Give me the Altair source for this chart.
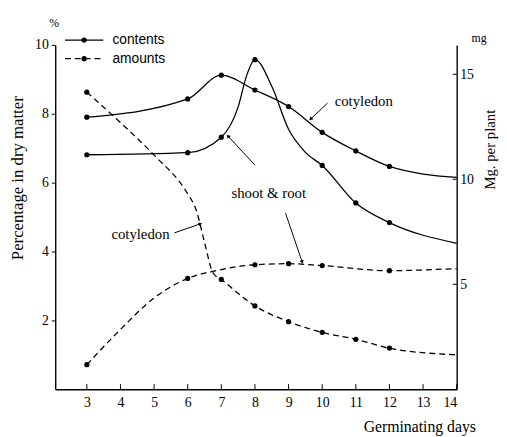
import altair as alt
import pandas as pd

# ---------------- data ----------------
# contents (percentage in dry matter, left axis) - solid lines
cot_c_days = [3, 6, 7, 8, 9, 10, 11, 12, 14]
cot_c_pct = [7.9, 8.43, 9.12, 8.69, 8.21, 7.46, 6.92, 6.47, 6.15]
cot_c_mark = [1, 1, 1, 1, 1, 1, 1, 1, 0]

sr_c_days = [3, 6, 7, 7.5, 7.75, 8, 8.5, 9, 9.5, 10, 11, 12, 14]
sr_c_pct = [6.81, 6.87, 7.32, 8.2, 9.1, 9.57, 8.8, 7.55, 6.88, 6.5, 5.41, 4.84, 4.24]
sr_c_mark = [1, 1, 1, 0, 0, 1, 0, 0, 0, 1, 1, 1, 0]

# amounts (mg per plant, right axis) - dashed lines
cot_a_days = [3, 4, 5, 6, 6.25, 6.5, 6.75, 7, 8, 9, 10, 11, 12, 14]
cot_a_mg = [14.15, 12.7, 11.15, 9.3, 8.55, 7.0, 5.55, 5.23, 3.97, 3.22, 2.71, 2.38, 1.96, 1.64]
cot_a_mark = [1, 0, 0, 0, 0, 0, 0, 1, 1, 1, 1, 1, 1, 0]

sr_a_days = [3, 4, 5, 6, 7, 8, 9, 10, 12, 14]
sr_a_mg = [1.17, 2.85, 4.35, 5.28, 5.70, 5.93, 5.98, 5.89, 5.65, 5.75]
sr_a_mark = [1, 0, 0, 1, 0, 1, 1, 1, 1, 0]

day_ticks = list(range(3, 15))
pct_ticks = [2, 4, 6, 8, 10]
mg_ticks = [5, 10, 15]

# annotation texts (day, percent)
ann_text = ["cotyledon", "shoot & root", "cotyledon"]
ann_day = [10.37, 7.30, 3.73]
ann_pct = [8.37, 5.69, 4.51]

# leader lines (day, pct) -> (day2, pct2), arrow angle
lead_day = [10.16, 8.0, 8.91, 5.60]
lead_pct = [8.31, 6.51, 5.11, 4.54]
lead_day2 = [9.67, 7.21, 9.40, 6.36]
lead_pct2 = [7.86, 7.34, 3.71, 4.80]
lead_ang = [227, 317, 161, 71]

# legend key
leg_labels = ["contents", "amounts"]
leg_pct = [10.14, 9.6]
leg_x0, leg_x1, leg_dot, leg_txt = 2.35, 3.49, 2.92, 3.76

unit_text = ["%", "mg"]
unit_day = [1.88, 14.44]
unit_pct = [10.63, 10.2]

# ---------------- tables ----------------
def series(name, days, vals, marks):
    return pd.DataFrame({"series": name, "day": days, "value": vals, "mark": marks})

contents = pd.concat([series("cotyledon", cot_c_days, cot_c_pct, cot_c_mark),
                      series("shoot & root", sr_c_days, sr_c_pct, sr_c_mark)])
amounts = pd.concat([series("cotyledon", cot_a_days, cot_a_mg, cot_a_mark),
                     series("shoot & root", sr_a_days, sr_a_mg, sr_a_mark)])

ann = pd.DataFrame({"text": ann_text, "day": ann_day, "value": ann_pct})
leads = pd.DataFrame({"day": lead_day, "value": lead_pct, "day2": lead_day2,
                      "value2": lead_pct2, "ang": lead_ang})
leg_lines = pd.DataFrame({"label": [l for l in leg_labels for _ in (0, 1)],
                          "day": [leg_x0, leg_x1] * 2,
                          "value": [leg_pct[0]] * 2 + [leg_pct[1]] * 2})
leg_dots = pd.DataFrame({"label": leg_labels, "day": [leg_dot] * 2, "value": leg_pct})
leg_txt_df = pd.DataFrame({"label": leg_labels, "day": [leg_txt] * 2, "value": leg_pct})
units = pd.DataFrame({"text": unit_text, "day": unit_day, "value": unit_pct})
xticks = pd.DataFrame({"day": day_ticks})
rticks = pd.DataFrame({"value": mg_ticks, "day": [13.88] * 3, "day2": [14] * 3})

SERIF = "Liberation Serif"

x_scale = alt.Scale(domain=[2.06, 14], nice=False, zero=False)
yl_scale = alt.Scale(domain=[0, 10], nice=False)
yr_scale = alt.Scale(domain=[0, 16.4], nice=False)

x_axis = alt.Axis(values=day_ticks, ticks=False, labelPadding=7, grid=False,
                  labelOverlap=False,
                  title="Germinating days", titleX=370, titleY=38,
                  titleAlign="center", titleBaseline="middle",
                  titleFontSize=16, labelFontSize=14, format="d")
X = alt.X("day:Q", scale=x_scale, axis=x_axis)

yl_axis = alt.Axis(values=pct_ticks, tickSize=4, labelPadding=3, grid=False,
                   labelOverlap=False,
                   title="Percentage in dry matter", titleX=-38, titleY=135,
                   titleAngle=-90, titleAlign="center", titleBaseline="middle",
                   titleFontSize=17, labelFontSize=14, format="d")
YL = alt.Y("value:Q", scale=yl_scale, axis=yl_axis)

yr_axis = alt.Axis(values=mg_ticks, orient="right", ticks=False, labelPadding=3,
                   grid=False, labelOverlap=False,
                   title="Mg. per plant", titleX=33, titleY=106,
                   titleAngle=-90, titleAlign="center", titleBaseline="middle",
                   titleFontSize=15, labelFontSize=14, format="d")
YR = alt.Y("value:Q", scale=yr_scale, axis=yr_axis)

LW = 1.3

# ---- left group: contents & annotations ----
c_line = alt.Chart(contents).mark_line(interpolate="monotone", color="black",
                                       strokeWidth=LW).encode(x=X, y=YL, detail="series:N")
c_pts = alt.Chart(contents).transform_filter("datum.mark == 1").mark_point(
    filled=True, color="black", size=28, opacity=1).encode(x=X, y=YL)
bticks = alt.Chart(xticks).mark_rule(color="black", strokeWidth=1).encode(
    x=X, y=alt.datum(0, scale=yl_scale), y2=alt.datum(0.15))
ann_t = alt.Chart(ann).mark_text(align="left", baseline="middle", font=SERIF,
                                 fontSize=15, color="black").encode(x=X, y=YL, text="text:N")
lead_r = alt.Chart(leads).mark_rule(color="black", strokeWidth=1).encode(
    x=X, y=YL, x2="day2:Q", y2="value2:Q")
lead_h = alt.Chart(leads).mark_point(shape="triangle", filled=True, color="black",
                                     size=18, opacity=1).encode(
    x=alt.X("day2:Q", scale=x_scale, axis=x_axis),
    y=alt.Y("value2:Q", scale=yl_scale, axis=yl_axis),
    angle=alt.Angle("ang:Q", scale=None))
legend_solid = alt.Chart(leg_lines).transform_filter("datum.label == 'contents'").mark_line(
    color="black", strokeWidth=LW).encode(x=X, y=YL)
legend_dash = alt.Chart(leg_lines).transform_filter("datum.label == 'amounts'").mark_line(
    color="black", strokeWidth=LW, strokeDash=[6, 4]).encode(x=X, y=YL)
legend_dots = alt.Chart(leg_dots).mark_point(filled=True, color="black", size=28,
                                             opacity=1).encode(x=X, y=YL)
legend_text = alt.Chart(leg_txt_df).mark_text(align="left", baseline="middle",
                                              font="Liberation Sans", fontSize=14,
                                              color="black").encode(x=X, y=YL, text="label:N")
unit_t = alt.Chart(units).mark_text(align="left", baseline="middle", font=SERIF,
                                    fontSize=12, color="black").encode(x=X, y=YL, text="text:N")

left = alt.layer(c_line, c_pts, bticks, ann_t, lead_r, lead_h, legend_solid,
                 legend_dash, legend_dots, legend_text, unit_t)

# ---- right group: amounts ----
a_line = alt.Chart(amounts).mark_line(interpolate="monotone", color="black",
                                      strokeWidth=LW, strokeDash=[6, 4]).encode(
    x=X, y=YR, detail="series:N")
a_pts = alt.Chart(amounts).transform_filter("datum.mark == 1").mark_point(
    filled=True, color="black", size=28, opacity=1).encode(x=X, y=YR)
r_ticks = alt.Chart(rticks).mark_rule(color="black", strokeWidth=1).encode(
    x=X, x2="day2:Q", y=YR)

right = alt.layer(a_line, a_pts, r_ticks)

chart = alt.layer(left, right).resolve_scale(y="independent").properties(
    width=408, height=350, autosize=alt.AutoSizeParams(type="none"),
    padding={"left": 48, "top": 34, "right": 43, "bottom": 45},
    background="white"
).configure_view(stroke=None).configure_axis(
    labelFont=SERIF, titleFont=SERIF, labelColor="black", titleColor="black",
    domainColor="black", domainWidth=1.4, tickColor="black", titleFontWeight="normal",
    labelOverlap=False
).configure_axisX(labelOverlap=False, labelBound=False)

chart.save("out.html", embed_options={"renderer": "svg", "actions": False})
